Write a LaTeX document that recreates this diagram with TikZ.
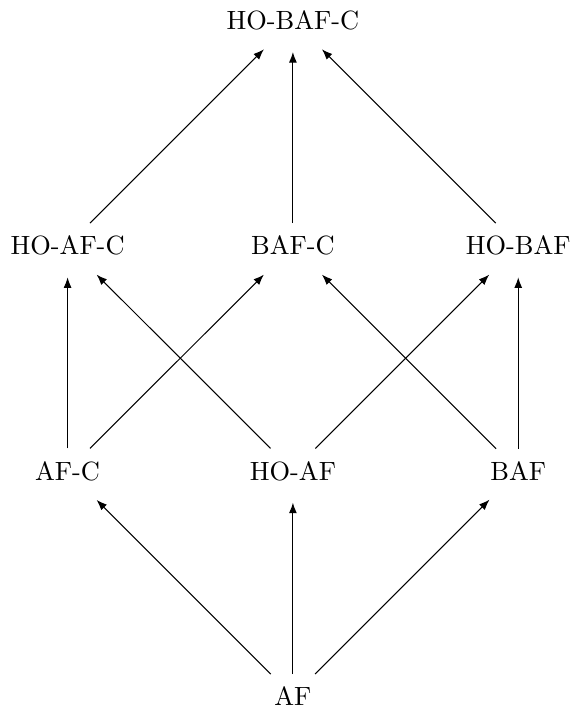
\documentclass[tikz,border=0pt]{standalone}
\usepackage{tikz}
\usetikzlibrary{positioning,arrows.meta}
\tikzset{
  lat/.style={inner sep=3.33pt,outer sep=1.5pt},
  up/.style={-{Latex[length=4pt,width=3pt]},shorten >=3.5pt},
}

\begin{document}
\begin{tikzpicture}[node distance=3cm and 3cm,on grid]
  \useasboundingbox (-3.90,-0.21) rectangle (3.74,9.27);
  \node[lat] (af) {AF};
  \node[lat,above=of af] (hoaf) {HO-AF};
  \node[lat,left=of hoaf] (afc) {AF-C};
  \node[lat,right=of hoaf] (baf) {BAF};
  \node[lat,above=of hoaf] (bafc) {BAF-C};
  \node[lat,left=of bafc] (hoafc) {HO-AF-C};
  \node[lat,right=of bafc] (hobaf) {HO-BAF};
  \node[lat,above=of bafc] (hobafc) {HO-BAF-C};
  \draw[up] (af)--(afc); \draw[up] (af)--(hoaf); \draw[up] (af)--(baf);
  \draw[up] (afc)--(hoafc); \draw[up] (afc)--(bafc);
  \draw[up] (hoaf)--(hoafc); \draw[up] (hoaf)--(hobaf);
  \draw[up] (baf)--(bafc); \draw[up] (baf)--(hobaf);
  \draw[up] (hoafc)--(hobafc); \draw[up] (bafc)--(hobafc);
  \draw[up] (hobaf)--(hobafc);
\end{tikzpicture}
\end{document}
